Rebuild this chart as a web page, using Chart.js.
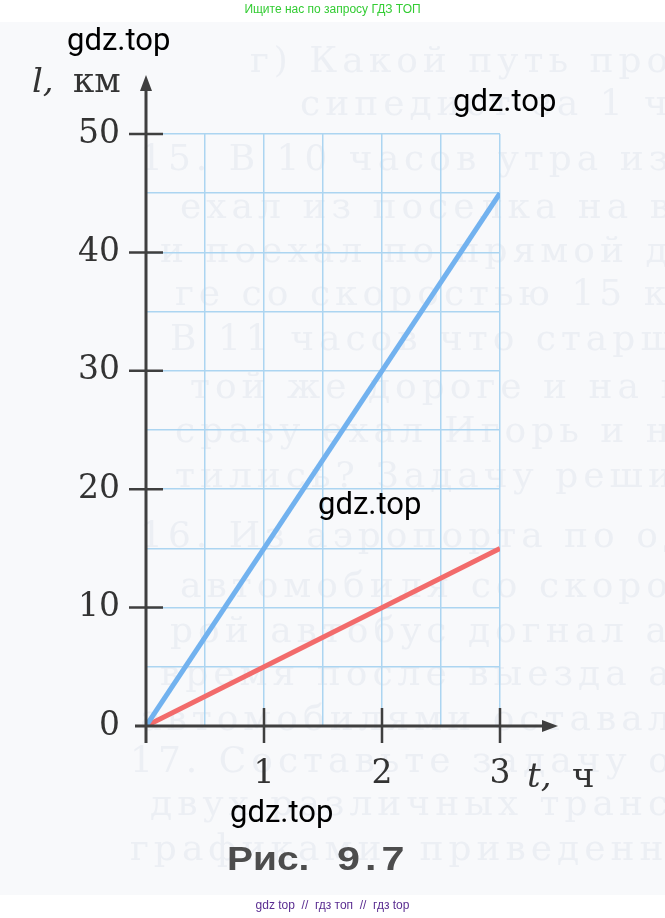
<!DOCTYPE html>
<html>
<head>
<meta charset="utf-8">
<script src="https://cdn.jsdelivr.net/npm/chart.js@4/dist/chart.umd.min.js"></script>
<style>
  body { margin: 0; width: 665px; height: 918px; background: #fff; position: relative; overflow: hidden; }
  #scan { position: absolute; left: 0; top: 22px; width: 665px; height: 873px; background: #f8f9fb; overflow: hidden; }
  .ghost { position: absolute; font-family: "DejaVu Serif", serif; font-size: 36px; line-height: 1; color: #eceff4; letter-spacing: 5px; white-space: pre; filter: blur(0.6px); }
  #wrap { position: absolute; left: 0; top: 0; }
  .t { position: absolute; white-space: pre; line-height: 1; }
  .serif { font-family: "DejaVu Serif", serif; font-size: 34px; color: #333; }
  .wm { font-family: Roboto, sans-serif; font-size: 31px; color: #000; }
</style>
</head>
<body>
<div id="scan"></div>
<div id="wrap"><canvas id="graph" width="665" height="918"></canvas></div>

<div class="t" style="left:0;width:665px;top:3px;text-align:center;font-family:'Liberation Sans Narrow','Liberation Sans',sans-serif;font-size:12px;color:#33cc33;">Ищите нас по запросу ГДЗ ТОП</div>
<div class="t serif" style="left:32px;top:63px;font-style:italic;">l,</div>
<div class="t serif" style="left:73px;top:63px;">км</div>
<div class="t serif" style="left:527px;top:758px;font-style:italic;">t,</div>
<div class="t serif" style="left:572px;top:758px;">ч</div>
<div class="t wm" style="left:67px;top:24px;">gdz.top</div>
<div class="t wm" style="left:453px;top:85px;">gdz.top</div>
<div class="t wm" style="left:318px;top:488px;">gdz.top</div>
<div class="t wm" style="left:230px;top:796px;">gdz.top</div>
<div class="t" style="left:227px;top:842px;font-family:'Liberation Sans',Arial,sans-serif;font-weight:bold;font-size:33px;color:#4d4d4d;transform:scaleX(1.18);transform-origin:left;">Рис.</div>
<div class="t" style="left:337px;top:842px;font-family:'Liberation Sans',Arial,sans-serif;font-weight:bold;font-size:33px;color:#4d4d4d;letter-spacing:4px;transform:scaleX(1.25);transform-origin:left;">9.7</div>
<div class="t" style="left:0;width:665px;top:899px;text-align:center;font-family:'Liberation Sans Narrow','Liberation Sans',sans-serif;font-size:12px;color:#5a2d91;">gdz top  //  гдз топ  //  гдз top</div>

<script>
// values
const hours = [0, 3];
const fastKm = [0, 45];   // blue line
const slowKm = [0, 15];   // red line
const xTickLabels = [1, 2, 3];
const yTickLabels = [0, 10, 20, 30, 40, 50];

// faint text of the scanned page behind the figure
const ghostLines = [
    [250, 24, "г) Какой путь проедет ве-"],
    [300, 67, "сипедист за 1 ч?"],
    [140, 122, "15. В 10 часов утра из по-"],
    [180, 170, "ехал из поселка на велоси-"],
    [160, 214, "и поехал по прямой доро-"],
    [175, 257, "ге со скоростью 15 км/ч."],
    [170, 302, "В 11 часов что старший брат"],
    [190, 350, "той же дороге и на мото-"],
    [175, 394, "сразу ехал Игорь и на ка-"],
    [175, 439, "тились? Задачу решите гра-"],
    [140, 499, "16. Из аэропорта по одной"],
    [180, 549, "автомобиля со скоростью"],
    [170, 594, "рой автобус догнал авто-"],
    [160, 637, "время после выезда авто-"],
    [140, 682, "автомобилями оставалось"],
    [130, 724, "17. Составьте задачу о пр"],
    [150, 767, "двух различных транспорт"],
    [130, 812, "графиками, приведенными"]
];
const scan = document.getElementById("scan");
ghostLines.forEach(function (g) {
    const d = document.createElement("div");
    d.className = "ghost";
    d.style.left = g[0] + "px";
    d.style.top = (g[1] - 22 + 18) + "px";
    d.textContent = g[2];
    scan.appendChild(d);
});

const axisColor = "#3f3f3f";

// axes with arrows and cross ticks, drawn on top of everything
const axesPlugin = {
    id: "axes",
    afterDraw(chart) {
        const ctx = chart.ctx;
        const xs = chart.scales.x;
        const ys = chart.scales.y;
        const x0 = xs.getPixelForValue(0);
        const y0 = ys.getPixelForValue(0);
        const yTop = ys.getPixelForValue(50) - 59;
        const xEnd = xs.getPixelForValue(3) + 58;

        ctx.save();
        ctx.strokeStyle = axisColor;
        ctx.fillStyle = axisColor;
        ctx.lineWidth = 3;

        ctx.beginPath();
        ctx.moveTo(x0, y0 + 17);
        ctx.lineTo(x0, yTop + 12);
        ctx.moveTo(x0 - 11, y0);
        ctx.lineTo(xEnd - 12, y0);
        ctx.stroke();

        // arrow heads
        ctx.beginPath();
        ctx.moveTo(x0, yTop);
        ctx.lineTo(x0 - 6, yTop + 16);
        ctx.lineTo(x0 + 6, yTop + 16);
        ctx.closePath();
        ctx.fill();
        ctx.beginPath();
        ctx.moveTo(xEnd, y0);
        ctx.lineTo(xEnd - 16, y0 - 6);
        ctx.lineTo(xEnd - 16, y0 + 6);
        ctx.closePath();
        ctx.fill();

        // cross ticks
        ctx.lineWidth = 2.5;
        ctx.beginPath();
        yTickLabels.forEach(function (v) {
            if (v === 0) return;
            const py = ys.getPixelForValue(v);
            ctx.moveTo(x0 - 17, py);
            ctx.lineTo(x0 + 17, py);
        });
        xTickLabels.forEach(function (v) {
            const px = xs.getPixelForValue(v);
            ctx.moveTo(px, y0 - 18);
            ctx.lineTo(px, y0 + 17);
        });
        ctx.stroke();
        ctx.restore();
    }
};

const tickFont = { family: "DejaVu Serif", size: 33 };

new Chart(document.getElementById("graph").getContext("2d"), {
    type: "line",
    data: {
        datasets: [
            {
                data: hours.map((h, i) => ({ x: h, y: fastKm[i] })),
                borderColor: "#72b2ef",
                borderWidth: 5,
                pointRadius: 0,
                fill: false
            },
            {
                data: hours.map((h, i) => ({ x: h, y: slowKm[i] })),
                borderColor: "#f26b6b",
                borderWidth: 5,
                pointRadius: 0,
                fill: false
            }
        ]
    },
    options: {
        responsive: false,
        animation: false,
        devicePixelRatio: 1,
        layout: { padding: { top: 134, right: 165, left: 0, bottom: 0 } },
        plugins: { legend: { display: false }, tooltip: { enabled: false } },
        scales: {
            x: {
                type: "linear",
                min: 0,
                max: 3,
                afterFit: function (scale) { scale.height = 192; },
                grid: { color: "#acd5f1", lineWidth: 1.5, drawTicks: false },
                border: { display: false },
                ticks: {
                    stepSize: 0.5,
                    autoSkip: false,
                    maxRotation: 0,
                    padding: 29,
                    color: "#333",
                    font: tickFont,
                    callback: v => xTickLabels.includes(v) ? String(v) : ""
                }
            },
            y: {
                min: 0,
                max: 50,
                afterFit: function (scale) { scale.width = 146; },
                grid: { color: "#acd5f1", lineWidth: 1.5, drawTicks: false },
                border: { display: false },
                ticks: {
                    stepSize: 5,
                    padding: 26,
                    color: "#333",
                    font: tickFont,
                    callback: v => yTickLabels.includes(v) ? String(v) : ""
                }
            }
        }
    },
    plugins: [axesPlugin]
});
</script>
</body>
</html>
